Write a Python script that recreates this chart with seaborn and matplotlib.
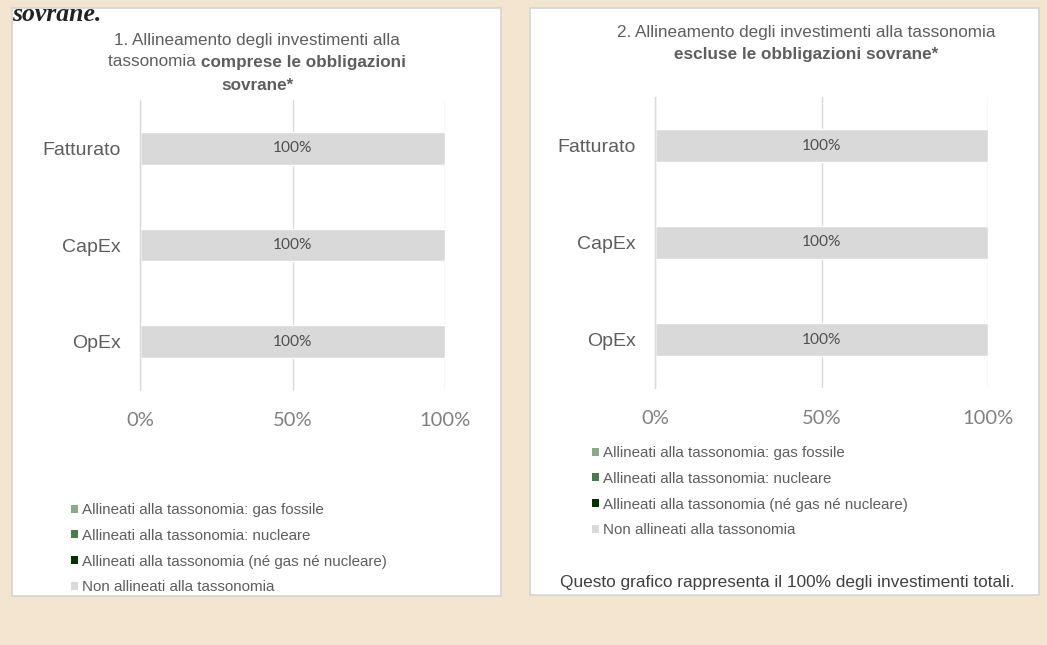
import matplotlib
matplotlib.use("Agg")
import matplotlib.pyplot as plt
from matplotlib.patches import Rectangle, Patch
from matplotlib.ticker import FixedLocator
import seaborn as sns
import pandas as pd

# ---- data ----
categories = ["Fatturato", "CapEx", "OpEx"]
series_names = [
    "Allineati alla tassonomia: gas fossile",
    "Allineati alla tassonomia: nucleare",
    "Allineati alla tassonomia (né gas né nucleare)",
    "Non allineati alla tassonomia",
]
series_colors = ["#8AAA8A", "#4B7A4B", "#003300", "#D9D9D9"]

# chart 1: including sovereign bonds
c1_gas = [0, 0, 0]
c1_nuc = [0, 0, 0]
c1_alg = [0, 0, 0]
c1_non = [100, 100, 100]
# chart 2: excluding sovereign bonds
c2_gas = [0, 0, 0]
c2_nuc = [0, 0, 0]
c2_alg = [0, 0, 0]
c2_non = [100, 100, 100]

xticks = [0, 50, 100]
xtick_labels = ["0%", "50%", "100%"]

W, H = 1047, 645
sns.set_theme(style="white")
plt.rcParams["font.family"] = ["Liberation Sans", "DejaVu Sans"]

fig = plt.figure(figsize=(W / 100, H / 100), dpi=100)
fig.patch.set_facecolor("#F4E5D1")

def fx(px):
    return px / W

def fy(py):
    return 1 - py / H

# white panels
for (x0, y0, x1, y1) in [(12, 8, 501, 596), (530, 8, 1039, 595)]:
    r = Rectangle((fx(x0), fy(y1)), fx(x1 - x0), (y1 - y0) / H,
                  transform=fig.transFigure, facecolor="white",
                  edgecolor="#D4D4D4", linewidth=1.2, zorder=-5)
    fig.add_artist(r)

TXT = "#5E5E5E"

def draw_chart(ax, gas, nuc, alg, non):
    cum1 = [a for a in gas]
    cum2 = [a + b for a, b in zip(cum1, nuc)]
    cum3 = [a + b for a, b in zip(cum2, alg)]
    cum4 = [a + b for a, b in zip(cum3, non)]
    layers = [cum4, cum3, cum2, cum1]
    cols = [series_colors[3], series_colors[2], series_colors[1], series_colors[0]]
    for vals, col in zip(layers, cols):
        df = pd.DataFrame({"cat": categories, "val": vals})
        sns.barplot(data=df, y="cat", x="val", orient="h", color=col,
                    width=0.34, ax=ax, saturation=1, zorder=2)
    grey = ax.containers[0]
    ax.bar_label(grey, labels=[f"{v:g}%" for v in non], label_type="center",
                 fontsize=11.2, color="#505050", family="Lato")
    ax.set_xlim(0, 100)
    ax.set_ylim(2.5, -0.5)
    ax.set_xlabel("")
    ax.set_ylabel("")
    ax.set_xticks(xticks)
    ax.set_xticklabels(xtick_labels, family="Lato", fontsize=14.5, color="#808080")
    ax.tick_params(axis="x", length=0, pad=16)
    ax.set_yticks(range(len(categories)))
    ax.set_yticklabels(categories, fontsize=14, color=TXT)
    ax.tick_params(axis="y", which="major", length=0, pad=14)
    ax.yaxis.set_minor_locator(FixedLocator([-0.5, 0.5, 1.5, 2.5]))
    ax.tick_params(axis="y", which="minor", length=5, width=1, color="#D9D9D9", direction="out")
    ax.grid(axis="x", color="#D9D9D9", linewidth=1, zorder=0)
    ax.set_axisbelow(True)
    for s in ["top", "right", "bottom"]:
        ax.spines[s].set_visible(False)
    ax.spines["left"].set_color("#D9D9D9")
    ax.spines["left"].set_linewidth(1)
    ax.set_facecolor("none")

ax1 = fig.add_axes([fx(140), fy(390), fx(445 - 140), 290 / H])
ax2 = fig.add_axes([fx(655), fy(388), fx(988 - 655), 291 / H])
draw_chart(ax1, c1_gas, c1_nuc, c1_alg, c1_non)
draw_chart(ax2, c2_gas, c2_nuc, c2_alg, c2_non)

fig.canvas.draw()
renderer = fig.canvas.get_renderer()

def mixed_line(cx, cy, parts, size):
    """parts: list of (text, weight); centered at cx, cy (px)"""
    objs = []
    for t, w in parts:
        objs.append(fig.text(0, fy(cy), t, fontsize=size, fontweight=w, color=TXT,
                             ha="left", va="center"))
    widths = [o.get_window_extent(renderer).width for o in objs]
    total = sum(widths)
    x = cx - total / 2
    for o, w in zip(objs, widths):
        o.set_x(fx(x))
        x += w

TS = 12.3
mixed_line(257, 40, [("1. Allineamento degli investimenti alla", "normal")], TS)
mixed_line(257, 62, [("tassonomia ", "normal"), ("comprese le obbligazioni", "bold")], TS)
mixed_line(257, 85, [("sovrane*", "bold")], TS)
mixed_line(806, 33, [("2. Allineamento degli investimenti alla tassonomia", "normal")], TS)
mixed_line(806, 55, [("escluse le obbligazioni sovrane*", "bold")], TS)

# truncated heading text at the top left
fig.text(fx(12), fy(21), "sovrane.", family="Liberation Serif", style="italic",
         fontweight="bold", fontsize=18.5, color="#222222", ha="left", va="baseline")

handles = [Patch(facecolor=c, edgecolor="none") for c in series_colors]
legkw = dict(frameon=False, fontsize=10.9, labelcolor=TXT, handlelength=0.45,
             handleheight=0.45, handletextpad=0.3, labelspacing=0.78,
             borderaxespad=0, borderpad=0)
fig.legend(handles, series_names, loc="upper left",
           bbox_to_anchor=(fx(71), fy(503)), **legkw)
fig.legend(handles, series_names, loc="upper left",
           bbox_to_anchor=(fx(592), fy(446)), **legkw)

fig.text(fx(787), fy(582), "Questo grafico rappresenta il 100% degli investimenti totali.",
         fontsize=12.4, color="#404040", ha="center", va="center")

fig.savefig("out.png", dpi=100, facecolor=fig.get_facecolor())
